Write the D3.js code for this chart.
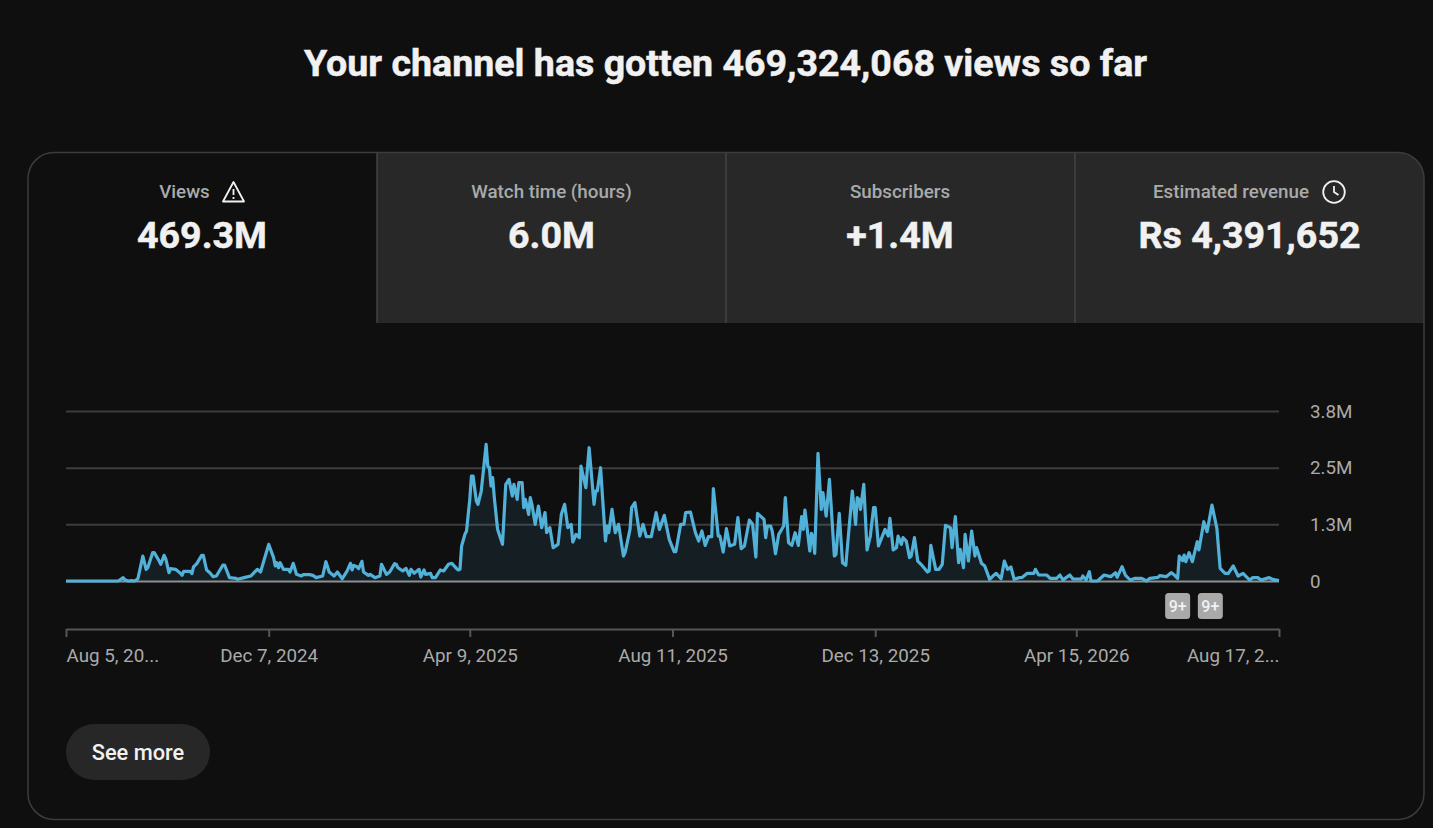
<!DOCTYPE html>
<html>
<head>
<meta charset="utf-8">
<title>Channel views</title>
<script src="https://cdn.jsdelivr.net/npm/d3@7"></script>
<style>
html, body { margin: 0; padding: 0; background: #0f0f0f; overflow: hidden; }
svg { display: block; font-family: Roboto, sans-serif; }
</style>
</head>
<body>
<svg id="page" width="1433" height="828"></svg>
<script>
// Text
const titleText = "Your channel has gotten 469,324,068 views so far";
const tabLabels = ["Views", "Watch time (hours)", "Subscribers", "Estimated revenue"];
const tabValues = ["469.3M", "6.0M", "+1.4M", "Rs 4,391,652"];

// Axis values
const startDate = new Date(Date.UTC(2024, 7, 5));
const tickDates = ["2024-08-05", "2024-12-07", "2025-04-09", "2025-08-11", "2025-12-13", "2026-04-15", "2026-08-17"];
const tickLabels = ["Aug 5, 20...", "Dec 7, 2024", "Apr 9, 2025", "Aug 11, 2025", "Dec 13, 2025", "Apr 15, 2026", "Aug 17, 2..."];
const yTicks = [0, 1250000, 2500000, 3750000];
const yTickLabels = ["0", "1.3M", "2.5M", "3.8M"];

// Days since the start date, and views (thousands) on that day
const days = [0,32,35,36,38,40,42,44,47,49,50,53,54,57,58,60,61,63,64,67,70,71,72,76,77,78,80,83,84,86,88,90,92,96,97,100,104,105,109,113,117,119,121,124,127,128,129,130,131,133,136,137,139,141,144,145,149,151,153,157,159,161,164,166,169,172,174,175,176,178,179,181,182,185,186,189,192,193,196,198,201,202,203,206,208,210,211,213,216,217,219,220,223,224,226,229,231,234,236,239,240,
  241,242,244,245,247,248,249,251,252,254,257,258,259,260,261,262,264,267,269,271,273,274,276,277,279,280,281,283,284,285,287,289,291,293,294,296,298,301,303,305,307,309,310,312,314,315,318,320,323,324,325,327,330,331,332,334,336,338,341,342,345,346,348,351,353,355,358,361,363,366,369,372,373,376,378,379,382,385,387,389,391,393,395,396,399,
  400,402,404,406,409,411,413,415,418,420,422,423,427,428,429,431,432,434,436,439,440,442,444,446,448,450,451,452,455,456,457,458,460,462,463,465,467,470,471,473,475,477,481,483,484,485,486,488,490,492,494,495,497,501,503,504,506,508,509,511,512,514,516,517,519,521,523,527,528,529,532,534,536,538,541,542,544,546,547,549,550,552,554,556,557,560,562,565,567,569,572,574,576,578,580,583,
  585,588,592,593,595,600,602,606,608,610,612,614,616,621,622,624,626,627,631,635,639,642,643,646,648,651,654,658,661,663,668,669,673,676,678,680,681,683,684,685,687,689,692,693,696,698,701,704,706,709,711,714,717,720,724,726,729,731,736,738,742];
const views = [0,0,74,29,0,7,0,51,551,257,294,625,625,441,368,566,492,184,272,257,169,125,213,213,162,309,382,566,566,243,184,96,110,353,353,74,59,37,74,110,257,198,441,808,514,331,404,294,404,257,257,198,390,147,110,140,140,125,74,110,426,198,110,198,51,221,390,243,345,316,272,434,198,125,147,74,110,368,147,198,382,368,294,221,279,125,257,169,257,88,243,147,169,74,74,243,221,368,390,272,243,
  257,772,1029,1103,1801,2315,2315,1764,1691,1985,3014,2536,2499,2095,2279,1838,1139,809,2132,2242,1874,2132,1801,2168,2168,1617,1801,1470,1838,1691,1250,1654,1176,1507,1066,1176,735,809,1470,1691,1176,1250,860,1029,956,2536,2058,2940,1691,1985,1985,2499,882,1213,1066,1580,1066,1250,551,625,1139,1617,1727,992,1250,978,978,1507,1139,1448,919,647,647,1250,1250,1507,1521,1066,882,1103,786,978,978,2036,992,
  992,639,1154,772,809,1397,713,772,1345,1250,529,1492,1360,956,1213,1213,1103,603,1029,1213,1838,845,786,1066,786,1419,1139,1566,662,1051,956,610,2815,1580,1948,1433,2242,551,588,1492,404,345,1985,1250,1838,1801,1580,2132,684,992,1617,1617,772,1139,992,1382,684,735,992,809,956,882,515,551,956,441,368,198,221,786,257,257,368,1227,1176,735,1419,404,698,294,1029,441,1103,551,735,390,331,37,110,169,51,441,257,309,37,74,
  81,169,169,257,132,132,59,59,132,22,81,132,44,44,110,22,206,0,0,132,96,184,81,316,132,22,59,59,0,59,81,118,96,184,132,59,551,448,573,426,625,426,867,684,1308,1088,1676,1161,279,169,169,331,110,169,22,74,74,22,74,37,7];

// Notification badges under the line
const badgeDays = [680, 700];
const badgeLabels = ["9+", "9+"];

const bg = "#0f0f0f";
const svg = d3.select("#page");

svg.append("text")
    .attr("x", 725.5)
    .attr("y", 76)
    .attr("text-anchor", "middle")
    .attr("font-size", 37.6)
    .attr("font-weight", 700)
    .attr("fill", "#f1f1f1")
    .attr("stroke", "#f1f1f1")
    .attr("stroke-width", 0.5)
    .text(titleText);

// Card with the tab strip clipped to its rounded corners
const card = {x: 28, y: 152.5, w: 1396, h: 667, r: 26};
const tabH = 170.5;
const tabW = card.w / 4;
svg.append("clipPath").attr("id", "card-clip")
  .append("rect")
    .attr("x", card.x).attr("y", card.y)
    .attr("width", card.w).attr("height", card.h)
    .attr("rx", card.r);

const tabs = svg.append("g").attr("clip-path", "url(#card-clip)");
tabs.selectAll("rect")
    .data(tabLabels)
    .join("rect")
    .attr("x", (d, i) => card.x + i * tabW)
    .attr("y", card.y)
    .attr("width", tabW)
    .attr("height", tabH)
    .attr("fill", (d, i) => i ? "#282828" : bg);
tabs.selectAll("line")
    .data(tabLabels.slice(1))
    .join("line")
    .attr("x1", (d, i) => card.x + (i + 1) * tabW)
    .attr("x2", (d, i) => card.x + (i + 1) * tabW)
    .attr("y1", card.y)
    .attr("y2", card.y + tabH)
    .attr("stroke", "#434343")
    .attr("stroke-width", 1.5);

svg.append("rect")
    .attr("x", card.x).attr("y", card.y)
    .attr("width", card.w).attr("height", card.h)
    .attr("rx", card.r)
    .attr("fill", "none")
    .attr("stroke", "#3c3c3c")
    .attr("stroke-width", 1.5);

// Label centres are shifted on the tabs that carry an icon
const labelX = [184.5, 551.5, 900, 1231];
const valueX = [202, 551.5, 900, 1249.5];
svg.append("g").selectAll("text")
    .data(tabLabels)
    .join("text")
    .attr("x", (d, i) => labelX[i])
    .attr("y", 197.5)
    .attr("text-anchor", "middle")
    .attr("font-size", 18.8)
    .attr("font-weight", 500)
    .attr("fill", "#aaaaaa")
    .text(d => d);
svg.append("g").selectAll("text")
    .data(tabValues)
    .join("text")
    .attr("x", (d, i) => valueX[i])
    .attr("y", 248)
    .attr("text-anchor", "middle")
    .attr("font-size", 37.6)
    .attr("font-weight", 700)
    .attr("fill", "#f1f1f1")
    .attr("stroke", "#f1f1f1")
    .attr("stroke-width", 0.5)
    .text(d => d);

// Warning triangle next to Views
const warn = svg.append("g").attr("transform", "translate(233.5,192)");
warn.append("path")
    .attr("d", "M0,-10 L10.5,9.5 L-10.5,9.5 Z")
    .attr("fill", "none")
    .attr("stroke", "#f1f1f1")
    .attr("stroke-width", 1.8)
    .attr("stroke-linejoin", "round");
warn.append("path")
    .attr("d", "M0,-3 L0,3 M0,5 L0,7")
    .attr("stroke", "#f1f1f1")
    .attr("stroke-width", 1.8);

// Clock next to Estimated revenue
const clock = svg.append("g").attr("transform", "translate(1334,192)");
clock.append("circle")
    .attr("r", 10.8)
    .attr("fill", "none")
    .attr("stroke", "#f1f1f1")
    .attr("stroke-width", 1.8);
clock.append("path")
    .attr("d", "M0,-6 L0,0 L4.5,3")
    .attr("fill", "none")
    .attr("stroke", "#f1f1f1")
    .attr("stroke-width", 1.8);

// Chart
const plot = {left: 66, right: 1279, zero: 581, top: 411, axis: 629};
const toDate = n => new Date(startDate.getTime() + n * 864e5);
const x = d3.scaleUtc()
    .domain([startDate, toDate(742)])
    .range([plot.left, plot.right]);
const y = d3.scaleLinear()
    .domain([0, 3750000])
    .range([plot.zero, plot.top]);

const yAxis = svg.append("g")
    .attr("transform", `translate(${plot.right},0)`)
    .call(d3.axisRight(y)
        .tickValues(yTicks)
        .tickSize(plot.left - plot.right)
        .tickPadding(0)
        .tickFormat((d, i) => yTickLabels[i]));
yAxis.select(".domain").remove();
yAxis.selectAll(".tick line")
    .attr("stroke", d => d ? "#3d3d3d" : "#8f8f8f")
    .attr("stroke-width", 2);
yAxis.selectAll(".tick text")
    .attr("x", 31)
    .attr("font-size", 18.8)
    .attr("font-family", "Roboto, sans-serif")
    .attr("fill", "#aaaaaa");

const points = days.map((d, i) => ({date: toDate(d), value: views[i] * 1000}));

const area = d3.area()
    .x(d => x(d.date))
    .y0(y(0))
    .y1(d => y(d.value));
const line = d3.line()
    .x(d => x(d.date))
    .y(d => y(d.value));

svg.append("path")
    .datum(points)
    .attr("d", area)
    .attr("fill", "#4fb3d9")
    .attr("fill-opacity", 0.1);
svg.append("path")
    .datum(points)
    .attr("d", line)
    .attr("fill", "none")
    .attr("stroke", "#52b1d9")
    .attr("stroke-width", 3.2)
    .attr("stroke-linejoin", "round");

// Badges
const badges = svg.append("g").selectAll("g")
    .data(badgeDays)
    .join("g")
    .attr("transform", d => `translate(${x(toDate(d))},606)`);
badges.append("rect")
    .attr("x", -12.5).attr("y", -13)
    .attr("width", 25).attr("height", 26)
    .attr("rx", 3.5)
    .attr("fill", "#a9a9a9");
badges.append("text")
    .attr("y", 5.5)
    .attr("text-anchor", "middle")
    .attr("font-size", 16)
    .attr("font-weight", 500)
    .attr("fill", "#f1f1f1")
    .text((d, i) => badgeLabels[i]);

// X axis, first and last labels hug the ends
const xAxis = svg.append("g")
    .attr("transform", `translate(0,${plot.axis})`)
    .call(d3.axisBottom(x)
        .tickValues(tickDates.map(d => new Date(d + "T00:00:00Z")))
        .tickSize(8)
        .tickSizeOuter(0)
        .tickFormat((d, i) => tickLabels[i]));
xAxis.select(".domain")
    .attr("stroke", "#565656")
    .attr("stroke-width", 2);
xAxis.selectAll(".tick line")
    .attr("stroke", "#565656")
    .attr("stroke-width", 2);
xAxis.selectAll(".tick text")
    .attr("y", 20)
    .attr("font-size", 18.8)
    .attr("font-family", "Roboto, sans-serif")
    .attr("fill", "#aaaaaa")
    .attr("text-anchor", (d, i) => i == 0 ? "start" : i == tickLabels.length - 1 ? "end" : "middle");

// See more button
svg.append("rect")
    .attr("x", 66).attr("y", 724)
    .attr("width", 144).attr("height", 56)
    .attr("rx", 28)
    .attr("fill", "#272727");
svg.append("text")
    .attr("x", 138)
    .attr("y", 759.5)
    .attr("text-anchor", "middle")
    .attr("font-size", 21.8)
    .attr("font-weight", 500)
    .attr("fill", "#f1f1f1")
    .text("See more");
</script>
</body>
</html>
